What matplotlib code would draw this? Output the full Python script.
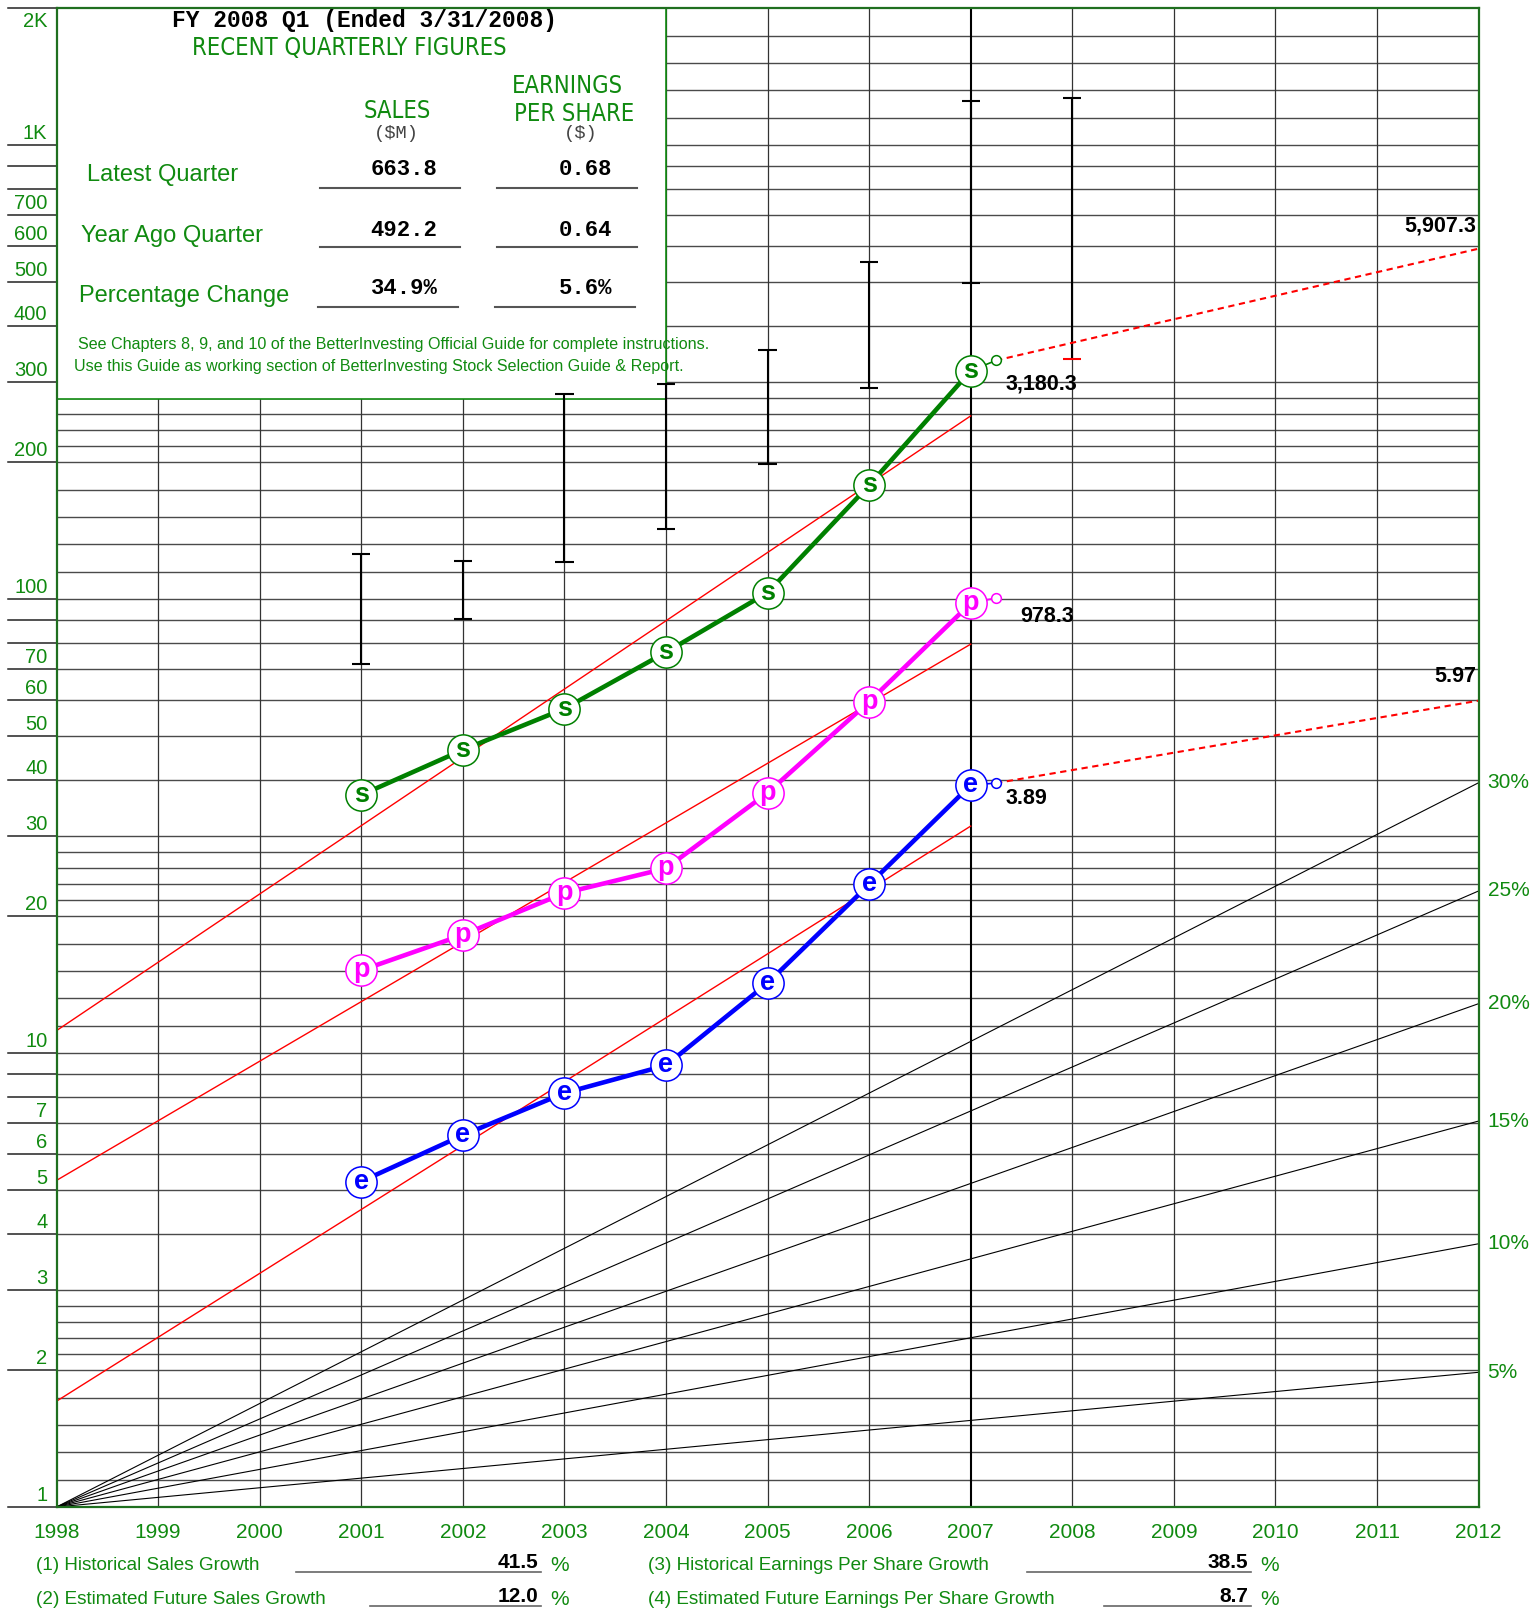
import matplotlib
matplotlib.use('Agg')
import matplotlib.pyplot as plt
from matplotlib import font_manager
from matplotlib.font_manager import FontProperties
from matplotlib.patches import Rectangle
from matplotlib.lines import Line2D
import numpy as np

W, H = 1530, 1610

# ---- values (sales plotted /10, EPS plotted x10) ----
years = [2001, 2002, 2003, 2004, 2005, 2006, 2007]
sales = [37.0, 46.5, 57.3, 76.3, 103.2, 178.0, 318.03]
pretax = [15.2, 18.2, 22.5, 25.5, 37.4, 59.4, 97.83]
eps = [5.21, 6.59, 8.16, 9.39, 14.25, 23.5, 38.9]

price_years = [2001, 2002, 2003, 2004, 2005, 2006, 2007, 2008]
price_high = [125.7, 121.2, 282.0, 297.0, 353.0, 552.0, 1251.0, 1271.0]
price_low = [72.0, 90.1, 120.6, 142.5, 197.8, 291.0, 497.0, 338.0]
cap_colors = ['black'] * 7 + ['red']

ttm_x = 2007.25
ttm_sales = 335.19
ttm_pretax = 100.5
ttm_eps = 39.3
proj_x = 2012
proj_sales = 590.73
proj_eps = 59.7

trend_x = [1998, 2007]
trend_sales = [11.2, 253.0]
trend_pretax = [5.24, 79.5]
trend_eps = [1.71, 31.6]

guide_labels = ['5%', '10%', '15%', '20%', '25%', '30%']
guide_end = [1.98, 3.80, 7.08, 12.84, 22.74, 39.37]

ylabel_vals = [1, 2, 3, 4, 5, 6, 7, 10, 20, 30, 40, 50, 60, 70,
               100, 200, 300, 400, 500, 600, 700, 1000, 2000]
ylabel_text = ['1', '2', '3', '4', '5', '6', '7', '10', '20', '30', '40', '50', '60', '70',
               '100', '200', '300', '400', '500', '600', '700', '1K', '2K']

quarter_rows = ['Latest Quarter', 'Year Ago Quarter', 'Percentage Change']
quarter_sales = ['663.8', '492.2', '34.9%']
quarter_eps = ['0.68', '0.64', '5.6%']

growth_names = ['(1) Historical Sales Growth', '(2) Estimated Future Sales Growth',
                '(3) Historical Earnings Per Share Growth',
                '(4) Estimated Future Earnings Per Share Growth']
growth_values = ['41.5', '12.0', '38.5', '8.7']

GREEN = '#108a10'
FRAME = '#1f6f1f'
SANS = 'Liberation Sans'
MONO = 'Liberation Mono'

# a narrow sans for the box headings, if one is installed
narrow_file = None
for f in font_manager.fontManager.ttflist:
    tag = f.name + ' ' + str(f.stretch)
    if ('Narrow' in tag or 'ondensed' in tag) and f.weight in (400, 'normal', 'regular') \
            and f.style == 'normal':
        narrow_file = f.fname
        break


def narrow(size):
    if narrow_file:
        return dict(fontproperties=FontProperties(fname=narrow_file, size=size))
    return dict(family=SANS, fontsize=size * 0.82)


fig = plt.figure(figsize=(15.3, 16.1), dpi=100)
ax = fig.add_axes([56.5 / W, 1 - 1507 / H, (1478.6 - 56.5) / W, (1507 - 8.2) / H])
ax.set_yscale('log')
ax.set_xlim(1998, 2012)
ax.set_ylim(1, 2000)
ax.tick_params(which='both', length=0, labelleft=False, labelbottom=False)
for s in ax.spines.values():
    s.set_color(FRAME)
    s.set_linewidth(1.6)
    s.set_zorder(10)


def px(x, y):
    return x / W, 1 - y / H


# horizontal grid: even log steps 1-2 and 2-3, then 3..9 in each decade
grid_vals = []
for d in [1, 10, 100, 1000]:
    grid_vals += list(np.logspace(np.log10(d), np.log10(2 * d), 6)[:-1])
    if d < 1000:
        grid_vals += list(np.logspace(np.log10(2 * d), np.log10(3 * d), 6)[:-1])
        grid_vals += [k * d for k in range(3, 10)]
for v in grid_vals:
    ax.axhline(v, color='#4a4a4a', lw=1.0, zorder=1)

for yr in range(1999, 2012):
    ax.axvline(yr, color='black' if yr == 2007 else '#333333',
               lw=1.5 if yr == 2007 else 0.9, zorder=1)

# left scale lines and labels
ytrans = ax.get_yaxis_transform()
for k in range(4):
    for m in range(1, 10):
        v = m * 10 ** k
        if v > 2000:
            break
        ax.plot([-48.5 / 1422, 0], [v, v], color='#222222', lw=1.1,
                transform=ytrans, clip_on=False, zorder=1)
for v, t in zip(ylabel_vals, ylabel_text):
    if v == 2000:
        ax.annotate(t, (0, v), xycoords=ytrans, xytext=(-9, -4), textcoords='offset pixels',
                    ha='right', va='top', color=GREEN, fontsize=14.5, family=SANS)
    else:
        ax.annotate(t, (0, v), xycoords=ytrans, xytext=(-9, 2), textcoords='offset pixels',
                    ha='right', va='bottom', color=GREEN, fontsize=14.5, family=SANS)

# growth guide lines from 1998
for lab, end in zip(guide_labels, guide_end):
    ax.plot([1998, 2012], [1, end], color='black', lw=0.8, zorder=1.5)
    ax.annotate(lab, (1, end), xycoords=ytrans, xytext=(9, 0), textcoords='offset pixels',
                ha='left', va='center', color=GREEN, fontsize=15, family=SANS,
                annotation_clip=False)

# quarterly figures box
ax.add_patch(Rectangle((1998, 275), 6, 2000 - 275, facecolor='white',
                       edgecolor=GREEN, lw=1.2, zorder=2))

# trend lines
for tv in [trend_sales, trend_pretax, trend_eps]:
    ax.plot(trend_x, tv, color='red', lw=1.0, zorder=3)

# price ranges
caps_lo = [x - 0.09 for x in price_years]
caps_hi = [x + 0.09 for x in price_years]
ax.vlines(price_years, price_low, price_high, color='black', lw=1.5, zorder=4)
ax.hlines(price_high, caps_lo, caps_hi, color='black', lw=1.5, zorder=4)
ax.hlines(price_low, caps_lo, caps_hi, colors=cap_colors, lw=1.5, zorder=4)

# projections
ax.plot([ttm_x, proj_x], [ttm_sales, proj_sales], color='red', lw=1.5,
        ls=(0, (3, 2.2)), zorder=4)
ax.plot([ttm_x, proj_x], [ttm_eps, proj_eps], color='red', lw=1.5,
        ls=(0, (3, 2.2)), zorder=4)

series = [(sales, ttm_sales, 's', 'green'),
          (pretax, ttm_pretax, 'p', '#ff00ff'),
          (eps, ttm_eps, 'e', '#0000ff')]
for vals, ttm, letter, col in series:
    ax.plot(years, vals, color=col, lw=3.3, zorder=5, solid_capstyle='round')
    ax.plot([years[-1], ttm_x], [vals[-1], ttm], color=col, lw=1.2, zorder=5)
    ax.plot(ttm_x, ttm, 'o', ms=7, mfc='white', mec=col, mew=1.1, zorder=6)
    ax.plot(years, vals, 'o', ms=22.5, mfc='white', mec=col, mew=1.1, zorder=6)
    for x, y in zip(years, vals):
        ax.annotate(letter, (x, y), xytext=(0, 0), textcoords='offset pixels',
                    ha='center', va='center', fontsize=19.5, fontweight='bold',
                    color=col, family=SANS, zorder=7)

# value labels
lab_kw = dict(textcoords='offset pixels', fontsize=15.5, fontweight='bold',
              family=SANS, color='black', zorder=8, annotation_clip=False)
ax.annotate('3,180.3', (years[-1], sales[-1]), xytext=(35, -13), ha='left', va='center', **lab_kw)
ax.annotate('978.3', (years[-1], pretax[-1]), xytext=(50, -13), ha='left', va='center', **lab_kw)
ax.annotate('3.89', (years[-1], eps[-1]), xytext=(35, -13), ha='left', va='center', **lab_kw)
ax.annotate('5,907.3', (proj_x, proj_sales), xytext=(-2, 23), ha='right', va='center', **lab_kw)
ax.annotate('5.97', (proj_x, proj_eps), xytext=(-2, 24), ha='right', va='center', **lab_kw)

# year labels
xtrans = ax.get_xaxis_transform()
for yr in range(1998, 2013):
    ax.text(yr, -25 / 1498.8, str(yr), transform=xtrans, ha='center', va='center',
            color=GREEN, fontsize=15, family=SANS, clip_on=False)

# box text
fig.text(*px(364.5, 21), 'FY 2008 Q1 (Ended 3/31/2008)', ha='center', va='center',
         family=MONO, fontweight='bold', fontsize=16.5, color='black')
fig.text(*px(349, 47.5), 'RECENT QUARTERLY FIGURES', ha='center', va='center',
         color=GREEN, **narrow(17))
fig.text(*px(397, 111), 'SALES', ha='center', va='center', color=GREEN, **narrow(17))
fig.text(*px(567, 86), 'EARNINGS', ha='center', va='center', color=GREEN, **narrow(17))
fig.text(*px(574, 114), 'PER SHARE', ha='center', va='center', color=GREEN, **narrow(17))
fig.text(*px(396, 133), '($M)', ha='center', va='center', family=MONO,
         fontsize=13.5, color='#444444')
fig.text(*px(581, 133), '($)', ha='center', va='center', family=MONO,
         fontsize=13.5, color='#444444')

row_y = [174.6, 236.2, 295.7]
row_x = [87, 81, 79]
val_y = [169.5, 230, 288.5]
line_y = [188, 247.5, 307]
for i in range(3):
    fig.text(*px(row_x[i], row_y[i]), quarter_rows[i], ha='left', va='center',
             family=SANS, fontsize=17, color=GREEN)
    fig.text(*px(404, val_y[i]), quarter_sales[i], ha='center', va='center',
             family=MONO, fontweight='bold', fontsize=16, color='black')
    fig.text(*px(586, val_y[i]), quarter_eps[i], ha='center', va='center',
             family=MONO, fontweight='bold', fontsize=16, color='black')
    off = -2 if i == 2 else 0
    for x0, x1 in [(320 + off, 460 + off), (497 + off, 636.5 + off)]:
        fig.add_artist(Line2D([x0 / W, x1 / W], [1 - line_y[i] / H] * 2,
                              color='#555555', lw=1.5))

fig.text(*px(78, 345), 'See Chapters 8, 9, and 10 of the BetterInvesting Official Guide '
         'for complete instructions.', ha='left', va='center', family=SANS,
         fontsize=11.6, color=GREEN, zorder=20)
fig.text(*px(74, 366.5), 'Use this Guide as working section of BetterInvesting Stock '
         'Selection Guide & Report.', ha='left', va='center', family=SANS,
         fontsize=11.6, color=GREEN, zorder=20)

# growth figures at the bottom
gx = [36, 36, 648, 648]
gy = [1565, 1599, 1565, 1599]
ul_x0 = [296, 370, 1027, 1104]
ul_x1 = [541, 541, 1251, 1251]
for i in range(4):
    fig.text(*px(gx[i], gy[i]), growth_names[i], ha='left', va='center',
             family=SANS, fontsize=13.6, color=GREEN)
    fig.add_artist(Line2D([ul_x0[i] / W, ul_x1[i] / W], [1 - (gy[i] + 7) / H] * 2,
                          color='#666666', lw=1.2))
    fig.text(*px(ul_x1[i] - 3, gy[i] - 3), growth_values[i], ha='right', va='center',
             family=SANS, fontweight='bold', fontsize=15, color='black')
    fig.text(*px(ul_x1[i] + 19, gy[i]), '%', ha='center', va='center',
             family=SANS, fontsize=15, color=GREEN)

fig.savefig('out.png', dpi=100, facecolor='white')
